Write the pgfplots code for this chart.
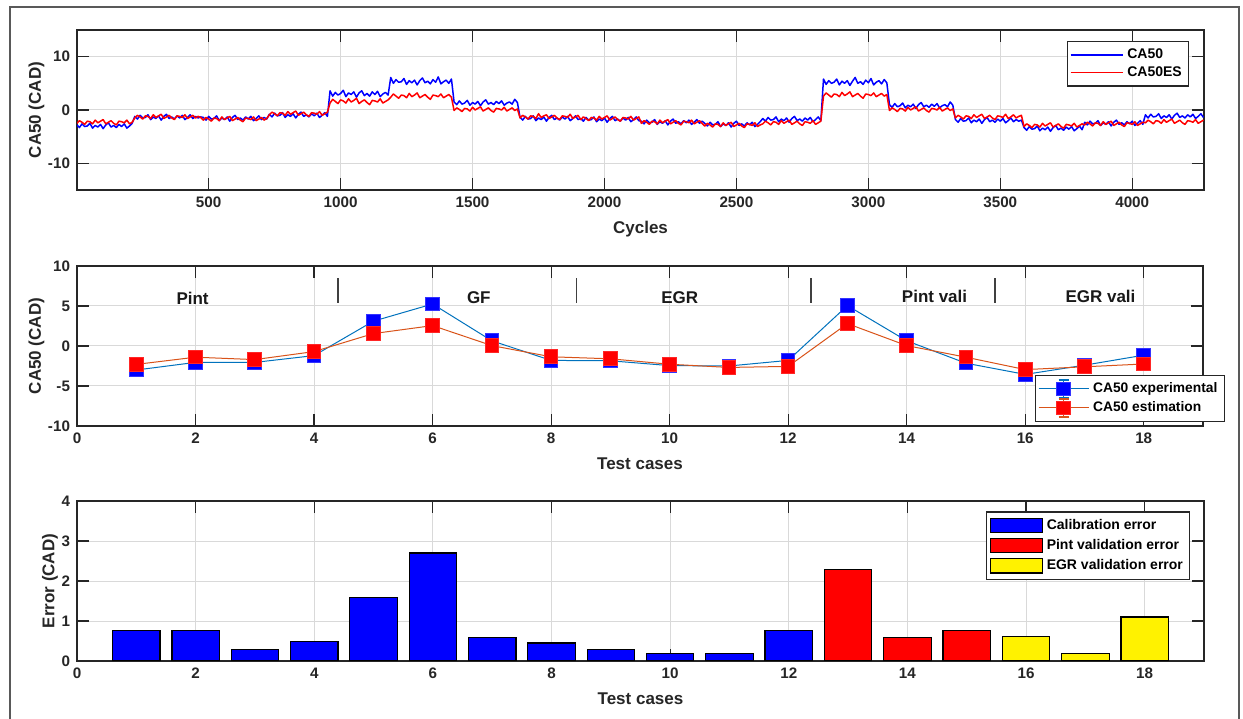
\documentclass[border=0pt]{standalone}
\usepackage{pgfplots}
\pgfplotsset{compat=1.18}
\usepackage{pgfplotstable}
\usepackage{fontspec}
\setmainfont{Liberation Sans}

\definecolor{mblue}{RGB}{0,114,189}
\definecolor{morange}{RGB}{217,83,25}
\definecolor{axgray}{gray}{0.15}

% cycle-resolved CA50: measured (b) and estimated (r)
\pgfplotstableread{
c b r
1 -2.8 -2.5
10 -3.3 -2.0
20 -2.6 -2.3
30 -3.1 -2.7
40 -3.0 -2.1
50 -2.5 -2.2
60 -3.4 -2.6
70 -2.9 -1.9
80 -3.2 -2.4
90 -2.7 -2.1
100 -3.5 -1.8
110 -2.8 -2.6
120 -2.4 -2.3
130 -3.2 -2.0
140 -2.9 -2.5
150 -3.3 -2.8
160 -2.7 -2.1
170 -3.1 -2.2
180 -2.6 -2.4
190 -3.4 -1.9
200 -3.0 -2.6
210 -2.5 -2.3
220 -1.2 -1.5
230 -1.7 -1.0
240 -1.0 -1.3
250 -1.5 -1.7
260 -1.4 -1.1
270 -0.9 -1.2
280 -1.8 -1.6
290 -1.3 -0.9
300 -1.6 -1.4
310 -1.1 -1.1
320 -1.9 -0.8
330 -1.2 -1.6
340 -0.8 -1.3
350 -1.6 -1.0
360 -1.3 -1.5
370 -1.7 -1.8
380 -1.1 -1.1
390 -1.5 -1.2
400 -1.0 -1.4
410 -1.8 -0.9
420 -1.4 -1.6
430 -0.9 -1.3
440 -1.6 -1.0
450 -1.2 -1.5
460 -1.5 -1.2
470 -1.3 -1.4
480 -1.4 -1.9
490 -1.9 -1.4
500 -1.2 -1.7
510 -1.7 -2.1
520 -1.6 -1.5
530 -1.1 -1.6
540 -2.0 -2.0
550 -1.5 -1.3
560 -1.8 -1.8
570 -1.3 -1.5
580 -2.1 -1.2
590 -1.4 -2.0
600 -1.0 -1.7
610 -1.8 -1.4
620 -1.5 -1.9
630 -1.9 -2.2
640 -1.3 -1.5
650 -1.7 -1.6
660 -1.2 -1.8
670 -2.0 -1.3
680 -1.6 -2.0
690 -1.1 -1.7
700 -1.8 -1.4
710 -1.4 -1.9
720 -1.7 -1.6
730 -0.8 -0.9
740 -1.3 -0.4
750 -0.6 -0.7
760 -1.1 -1.1
770 -1.0 -0.5
780 -0.5 -0.6
790 -1.4 -1.0
800 -0.9 -0.3
810 -1.2 -0.8
820 -0.7 -0.5
830 -1.5 -0.2
840 -0.8 -1.0
850 -0.4 -0.7
860 -1.2 -0.4
870 -0.9 -0.9
880 -1.3 -1.2
890 -0.7 -0.5
900 -1.1 -0.6
910 -0.6 -0.8
920 -1.4 -0.3
930 -1.0 -1.0
940 -0.5 -0.7
950 -1.2 -0.4
960 3.6 1.3
970 2.6 2.0
980 3.3 1.6
990 2.8 1.2
1000 3.1 1.9
1010 3.7 1.7
1020 2.5 1.3
1030 3.2 2.1
1040 2.9 1.5
1050 3.4 1.8
1060 2.4 2.2
1070 3.2 1.2
1080 3.6 1.6
1090 2.7 1.9
1100 3.1 1.4
1110 2.6 1.0
1120 3.4 1.8
1130 2.9 1.7
1140 3.5 1.5
1150 2.5 2.1
1160 3.0 1.3
1170 3.3 1.6
1180 2.8 1.9
1190 6.1 2.4
1200 5.0 3.0
1210 5.7 2.6
1220 5.2 2.2
1230 5.3 2.8
1240 5.9 2.7
1250 4.8 2.3
1260 5.5 3.1
1270 5.1 2.5
1280 5.6 2.8
1290 4.7 3.2
1300 5.5 2.3
1310 6.0 2.6
1320 5.1 2.9
1330 5.4 2.4
1340 4.9 2.0
1350 5.7 2.8
1360 5.2 2.7
1370 6.2 2.5
1380 4.9 3.0
1390 5.3 2.3
1400 5.6 2.6
1410 5.0 2.9
1420 5.8 2.4
1430 1.5 -0.1
1440 1.0 0.4
1450 1.7 0.1
1460 1.1 -0.3
1470 1.3 0.3
1480 1.8 0.2
1490 0.9 -0.2
1500 1.4 0.5
1510 1.1 0.0
1520 1.6 0.3
1530 0.8 0.6
1540 1.5 -0.2
1550 1.9 0.1
1560 1.1 0.4
1570 1.4 -0.1
1580 1.0 -0.4
1590 1.6 0.3
1600 1.2 0.2
1610 1.7 0.0
1620 0.9 0.5
1630 1.3 -0.2
1640 1.5 0.1
1650 1.1 0.4
1660 2.0 -0.1
1670 1.4 0.2
1680 -1.4 -1.5
1690 -1.9 -1.0
1700 -1.2 -1.3
1710 -1.7 -1.7
1720 -1.6 -1.1
1730 -1.1 -1.2
1740 -2.0 -1.6
1750 -1.5 -0.7
1760 -1.8 -1.4
1770 -1.3 -1.1
1780 -2.1 -0.9
1790 -1.4 -1.6
1800 -1.0 -1.3
1810 -1.8 -1.0
1820 -1.5 -1.5
1830 -1.9 -1.8
1840 -1.3 -1.1
1850 -1.7 -1.2
1860 -1.2 -1.4
1870 -2.0 -0.8
1880 -1.6 -1.6
1890 -1.1 -1.3
1900 -1.8 -1.0
1910 -1.6 -1.8
1920 -2.1 -1.3
1930 -1.4 -1.6
1940 -1.9 -2.0
1950 -1.8 -1.4
1960 -1.3 -1.5
1970 -2.2 -1.9
1980 -1.7 -1.2
1990 -2.0 -1.7
2000 -1.5 -1.4
2010 -2.3 -1.1
2020 -1.6 -1.9
2030 -1.2 -1.6
2040 -2.0 -1.3
2050 -1.7 -1.8
2060 -2.1 -2.1
2070 -1.5 -1.4
2080 -1.9 -1.5
2090 -1.4 -1.7
2100 -2.2 -1.2
2110 -1.8 -1.9
2120 -1.3 -1.6
2130 -2.0 -1.3
2140 -2.1 -2.5
2150 -2.6 -2.0
2160 -1.9 -2.3
2170 -2.4 -2.7
2180 -2.3 -2.1
2190 -1.8 -2.2
2200 -2.7 -2.6
2210 -2.2 -1.9
2220 -2.5 -2.4
2230 -2.0 -2.1
2240 -2.8 -1.8
2250 -2.1 -2.6
2260 -1.7 -2.3
2270 -2.5 -2.0
2280 -2.2 -2.5
2290 -2.6 -2.8
2300 -2.0 -2.1
2310 -2.4 -2.2
2320 -1.9 -2.4
2330 -2.7 -1.9
2340 -2.3 -2.6
2350 -1.8 -2.3
2360 -2.5 -2.0
2370 -2.1 -2.5
2380 -2.5 -3.0
2390 -3.0 -2.5
2400 -2.3 -2.8
2410 -2.8 -3.2
2420 -2.7 -2.6
2430 -2.2 -2.7
2440 -3.1 -3.1
2450 -2.6 -2.4
2460 -2.9 -2.9
2470 -2.4 -2.6
2480 -3.2 -2.3
2490 -2.5 -3.1
2500 -2.1 -2.8
2510 -2.9 -2.5
2520 -2.6 -3.0
2530 -3.0 -3.3
2540 -2.4 -2.6
2550 -2.8 -2.7
2560 -2.3 -2.9
2570 -3.1 -2.4
2580 -2.7 -3.1
2590 -2.2 -2.8
2600 -1.6 -2.6
2610 -2.1 -2.1
2620 -1.4 -2.4
2630 -1.9 -2.8
2640 -1.8 -2.2
2650 -1.3 -2.3
2660 -2.2 -2.7
2670 -1.7 -2.0
2680 -2.0 -2.5
2690 -1.5 -2.2
2700 -2.3 -1.9
2710 -1.6 -2.7
2720 -1.2 -2.4
2730 -2.0 -2.1
2740 -1.7 -2.6
2750 -2.1 -2.9
2760 -1.5 -2.2
2770 -1.9 -2.3
2780 -1.4 -2.5
2790 -2.2 -2.0
2800 -1.8 -2.7
2810 -1.3 -2.4
2820 -2.0 -2.1
2830 5.8 2.6
2840 4.8 3.2
2850 5.5 2.8
2860 5.0 2.4
2870 5.2 3.0
2880 5.8 2.9
2890 4.7 2.5
2900 5.4 3.3
2910 5.0 2.7
2920 5.5 3.0
2930 4.6 3.4
2940 5.4 2.5
2950 6.1 2.8
2960 5.0 3.1
2970 5.3 2.6
2980 4.8 2.2
2990 5.6 3.0
3000 5.1 2.9
3010 5.9 2.7
3020 4.7 3.2
3030 5.2 2.5
3040 5.5 2.8
3050 4.9 3.1
3060 5.7 2.6
3070 5.1 2.9
3080 1.0 -0.1
3090 0.5 0.4
3100 1.2 0.1
3110 0.6 -0.3
3120 0.8 0.3
3130 1.3 0.2
3140 0.4 -0.2
3150 0.9 0.5
3160 0.6 0.0
3170 1.1 0.3
3180 0.3 0.6
3190 1.0 -0.2
3200 1.4 0.1
3210 0.6 0.4
3220 0.9 -0.1
3230 0.5 -0.4
3240 1.1 0.3
3250 0.7 0.2
3260 1.2 0.0
3270 0.4 0.5
3280 0.8 -0.2
3290 1.0 0.1
3300 0.6 0.4
3310 1.5 -0.1
3320 0.9 0.2
3330 -1.8 -1.5
3340 -2.3 -1.0
3350 -1.6 -1.3
3360 -2.1 -1.7
3370 -2.0 -1.1
3380 -1.5 -1.2
3390 -2.4 -1.6
3400 -1.9 -0.9
3410 -2.2 -1.4
3420 -1.7 -1.1
3430 -2.5 -0.8
3440 -1.8 -1.6
3450 -1.4 -1.3
3460 -2.2 -1.0
3470 -1.9 -1.5
3480 -2.3 -1.8
3490 -1.7 -1.1
3500 -2.1 -1.2
3510 -1.6 -1.4
3520 -2.4 -0.8
3530 -2.0 -1.6
3540 -1.5 -1.3
3550 -2.2 -0.9
3560 -1.8 -1.5
3570 -2.1 -1.2
3580 -1.9 -1.0
3590 -3.3 -3.1
3600 -3.8 -2.6
3610 -3.1 -2.9
3620 -3.6 -3.3
3630 -3.5 -2.7
3640 -3.0 -2.8
3650 -3.9 -3.2
3660 -3.4 -2.5
3670 -3.7 -3.0
3680 -3.2 -2.7
3690 -4.0 -2.4
3700 -3.3 -3.2
3710 -2.9 -2.9
3720 -3.7 -2.6
3730 -3.4 -3.1
3740 -3.8 -3.4
3750 -3.2 -2.7
3760 -3.6 -2.8
3770 -3.1 -3.0
3780 -3.9 -2.5
3790 -3.5 -3.2
3800 -3.0 -2.9
3810 -3.7 -2.6
3820 -2.3 -2.8
3830 -2.8 -2.3
3840 -2.1 -2.6
3850 -2.6 -3.0
3860 -2.5 -2.4
3870 -2.0 -2.5
3880 -2.9 -2.9
3890 -2.4 -2.2
3900 -2.7 -2.7
3910 -2.2 -2.4
3920 -3.0 -2.1
3930 -2.3 -2.9
3940 -1.9 -2.6
3950 -2.7 -2.3
3960 -2.4 -2.8
3970 -2.8 -3.1
3980 -2.2 -2.4
3990 -2.6 -2.5
4000 -2.1 -2.7
4010 -2.9 -2.2
4020 -2.5 -2.9
4030 -2.0 -2.6
4040 -2.7 -2.3
4050 -0.9 -2.4
4060 -1.5 -1.9
4070 -0.8 -2.2
4080 -1.3 -2.6
4090 -1.2 -2.0
4100 -0.7 -2.1
4110 -1.6 -2.5
4120 -1.1 -1.8
4130 -1.4 -2.3
4140 -0.9 -2.0
4150 -1.7 -1.7
4160 -1.0 -2.5
4170 -0.6 -2.2
4180 -1.4 -1.9
4190 -1.1 -2.4
4200 -1.5 -2.7
4210 -0.9 -2.0
4220 -1.3 -2.1
4230 -0.8 -2.3
4240 -1.6 -1.8
4250 -1.2 -2.5
4260 -0.7 -2.2
4270 -1.4 -1.9
}\cycdata

% mean CA50 per test case: experimental (b), estimated (r)
\pgfplotstableread{
n b r
1 -3.0 -2.3
2 -2.05 -1.4
3 -2.05 -1.7
4 -1.2 -0.7
5 3.1 1.55
6 5.25 2.55
7 0.65 0.05
8 -1.8 -1.35
9 -1.85 -1.6
10 -2.45 -2.28
11 -2.5 -2.68
12 -1.8 -2.55
13 5.05 2.8
14 0.65 0.05
15 -2.15 -1.4
16 -3.55 -2.95
17 -2.4 -2.6
18 -1.15 -2.25
}\casedata

\pgfplotsset{
  mlab/.style={
    scale only axis,
    width=563.5bp, height=80bp,
    axis line style={axgray, line width=0.6bp},
    tick align=inside, tick pos=both,
    major tick length=6bp,
    every tick/.style={axgray, line width=0.6bp},
    grid=major, major grid style={black!15, line width=0.5bp},
    tick label style={font=\fontsize{7.6bp}{8.5bp}\selectfont\bfseries, text=axgray},
    label style={font=\fontsize{8.5bp}{9.5bp}\selectfont\bfseries, text=axgray},
    ylabel shift=-5bp,
    /pgf/number format/assume math mode=true,
    /pgf/number format/1000 sep={},
    legend cell align=left,
  },
}

\begin{document}
\begin{tikzpicture}
\useasboundingbox (0,0) rectangle (621.5bp,359.5bp);
\fill[white] (0,0) rectangle (621.5bp,359.5bp);
\draw[black!65, line width=1.2bp] (5bp,0) -- (5bp,356bp) -- (619.5bp,356bp) -- (619.5bp,0);

% ---- cycle-resolved CA50 ----
\begin{axis}[mlab,
  at={(38.5bp,264.5bp)}, anchor=south west,
  xmin=1, xmax=4272, ymin=-15, ymax=15,
  xtick={500,1000,...,4000}, ytick={-10,0,10},
  xlabel={Cycles}, ylabel={CA50 (CAD)},
  legend style={at={(0.987,0.931)}, anchor=north east, draw=axgray, line width=0.6bp,
    font=\fontsize{7bp}{8bp}\selectfont\bfseries, inner sep=1.5bp, row sep=-1.5bp},
  legend image code/.code={\draw[#1, line width=0.6bp] (0bp,0bp) -- (26bp,0bp);},
]
\addplot[blue, line width=0.75bp, line join=round] table[x=c, y=b] {\cycdata};
\addlegendentry{CA50}
\addplot[red, line width=0.75bp, line join=round] table[x=c, y=r] {\cycdata};
\addlegendentry{CA50ES}
\end{axis}

% ---- per-case mean CA50 ----
\begin{axis}[mlab,
  at={(38.5bp,146.5bp)}, anchor=south west,
  width=563bp,
  xmin=0, xmax=19, ymin=-10, ymax=10,
  xtick={0,2,...,18}, ytick={-10,-5,0,5,10},
  xlabel={Test cases}, ylabel={CA50 (CAD)},
  legend style={at={(1.0195,0.025)}, anchor=south east, draw=axgray, line width=0.6bp,
    font=\fontsize{6.9bp}{7.5bp}\selectfont\bfseries, inner sep=1.5bp, row sep=-1bp},
  legend image code/.code={
    \draw[#1, mark=none] (0bp,0bp) -- (25bp,0bp);
    \draw[#1, mark=none, line width=0.6bp] (12.5bp,-4.5bp) -- (12.5bp,4.5bp)
      (10bp,-4.5bp) -- (15bp,-4.5bp) (10bp,4.5bp) -- (15bp,4.5bp);
    \draw[#1] plot coordinates {(12.5bp,0bp)};
  },
]
\addplot[mblue, line width=0.5bp, mark=square*, mark size=3.4bp,
  mark options={fill=blue, draw=blue!80!white},
  error bars/.cd, y dir=both, y fixed=0.3,
  error bar style={mblue!60!white, line width=0.4bp},
  error mark options={rotate=90, mark size=3bp, mblue!60!white, line width=0.4bp}]
  table[x=n, y=b] {\casedata};
\addlegendentry{CA50 experimental}
\addplot[morange, line width=0.5bp, mark=square*, mark size=3.4bp,
  mark options={fill=red, draw=red!85!white},
  error bars/.cd, y dir=both, y fixed=0.3,
  error bar style={orange!80!yellow, line width=0.4bp},
  error mark options={rotate=90, mark size=3bp, orange!80!yellow, line width=0.4bp}]
  table[x=n, y=r] {\casedata};
\addlegendentry{CA50 estimation}
\begin{scope}[font=\fontsize{8.5bp}{9bp}\selectfont\bfseries, text=black!90]
\node at (axis cs:1.95,5.9) {Pint};
\node at (axis cs:6.78,6.0) {GF};
\node at (axis cs:10.17,6.0) {EGR};
\node at (axis cs:14.47,6.2) {Pint vali};
\node at (axis cs:17.27,6.2) {EGR vali};
\end{scope}
\draw[black!75, line width=0.9bp] (axis cs:4.4,5.4) -- (axis cs:4.4,8.5)
  (axis cs:8.43,5.4) -- (axis cs:8.43,8.5)
  (axis cs:12.39,5.4) -- (axis cs:12.39,8.5)
  (axis cs:15.49,5.4) -- (axis cs:15.49,8.5);
\end{axis}

% ---- estimation error per case ----
\begin{axis}[mlab,
  at={(38.5bp,29bp)}, anchor=south west,
  xmin=0, xmax=19, ymin=0, ymax=4,
  xtick={0,2,...,18}, ytick={0,1,2,3,4},
  xlabel={Test cases}, ylabel={Error (CAD)},
  legend style={at={(0.988,0.935)}, anchor=north east, draw=axgray, line width=0.6bp,
    font=\fontsize{7bp}{8bp}\selectfont\bfseries, inner sep=1.5bp, row sep=-0.5bp},
  legend image code/.code={\draw[#1] (0bp,-3.6bp) rectangle (26bp,3.6bp);},
]
\addplot[ybar, bar width=0.8, bar shift=0pt, fill=blue, draw=black, line width=0.6bp]
  coordinates {(1,0.76) (2,0.76) (3,0.28) (4,0.48) (5,1.58) (6,2.70) (7,0.59) (8,0.45) (9,0.28) (10,0.18) (11,0.18) (12,0.76)};
\addlegendentry{Calibration error}
\addplot[ybar, bar width=0.8, bar shift=0pt, fill=red, draw=black, line width=0.6bp]
  coordinates {(13,2.28) (14,0.58) (15,0.76)};
\addlegendentry{Pint validation error}
\addplot[ybar, bar width=0.8, bar shift=0pt, fill=yellow, draw=black, line width=0.6bp]
  coordinates {(16,0.62) (17,0.18) (18,1.10)};
\addlegendentry{EGR validation error}
\end{axis}
\end{tikzpicture}
\end{document}
